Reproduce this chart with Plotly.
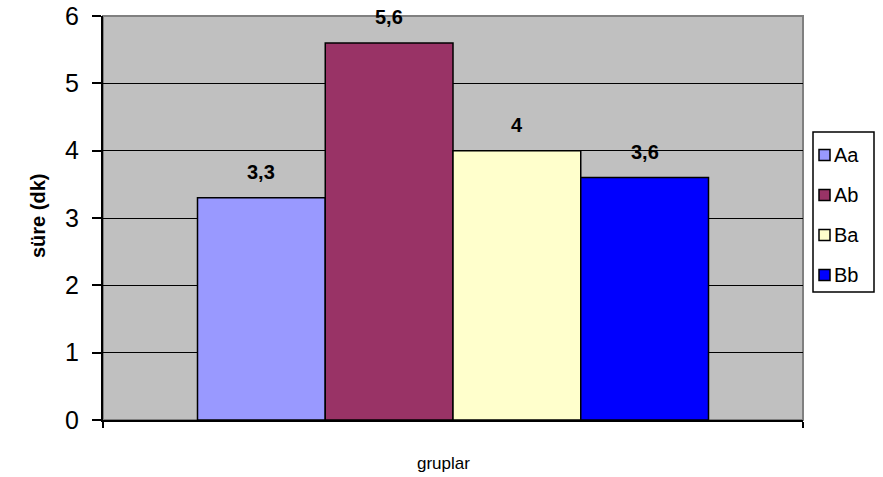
import plotly.graph_objects as go

category = ["gruplar"]
series_names = ["Aa", "Ab", "Ba", "Bb"]
series_values = [3.3, 5.6, 4, 3.6]
value_labels = ["3,3", "5,6", "4", "3,6"]
colors = ["#9999FF", "#993366", "#FFFFCC", "#0000FF"]
y_ticks = [0, 1, 2, 3, 4, 5, 6]

bargap = 0.27
FONT = "Arial, Liberation Sans, sans-serif"

fig = go.Figure()
for name, val, col in zip(series_names, series_values, colors):
    fig.add_trace(go.Bar(
        x=category, y=[val], name=name, showlegend=False,
        marker=dict(color=col, line=dict(color="black", width=1.5)),
    ))

# value labels above each bar
n = len(series_names)
w = (1 - bargap) / n
for i, (val, lab) in enumerate(zip(series_values, value_labels)):
    xc = -(1 - bargap) / 2 + w * (i + 0.5)
    fig.add_annotation(x=xc, y=val, xref="x", yref="y", text=f"<b>{lab}</b>",
                       showarrow=False, yshift=26,
                       font=dict(family=FONT, size=20, color="black"))

# gray border of plot area
fig.add_shape(type="rect", xref="paper", yref="paper", x0=0, x1=1, y0=0, y1=1,
              line=dict(color="#808080", width=2), layer="below")

PW, PH = 700.0, 404.0  # plot area size in px
def px(xp):  # px right of plot left -> paper
    return xp / PW
def py(yp):  # px below plot top -> paper
    return 1 - yp / PH

# legend box
fig.add_shape(type="rect", xref="paper", yref="paper",
              x0=px(710), x1=px(771), y0=py(116), y1=py(276),
              line=dict(color="black", width=1.5), fillcolor="white")
item_y = [139, 179, 219, 259]
for name, col, yc in zip(series_names, colors, item_y):
    fig.add_shape(type="rect", xref="paper", yref="paper",
                  x0=px(716), x1=px(727), y0=py(yc + 5.5), y1=py(yc - 5.5),
                  line=dict(color="black", width=1.5), fillcolor=col)
    fig.add_annotation(x=px(729), y=py(yc), xref="paper", yref="paper",
                       text=name, showarrow=False, xanchor="left", yanchor="middle",
                       font=dict(family=FONT, size=20, color="black"))

# axis titles
fig.add_annotation(x=px(340), y=py(447), xref="paper", yref="paper", text="gruplar",
                   showarrow=False, xanchor="center", yanchor="middle",
                   font=dict(family=FONT, size=17, color="black"))
fig.add_annotation(x=px(-65), y=py(200), xref="paper", yref="paper",
                   text="<b>süre (dk)</b>", textangle=-90, showarrow=False,
                   xanchor="center", yanchor="middle",
                   font=dict(family=FONT, size=20, color="black"))

fig.update_layout(
    width=883, height=477,
    margin=dict(l=103, r=80, t=16, b=57, autoexpand=False),
    paper_bgcolor="white", plot_bgcolor="#C0C0C0",
    barmode="group", bargap=bargap, bargroupgap=0,
    font=dict(family=FONT, color="black"),
    showlegend=False,
    xaxis=dict(showticklabels=False, ticks="outside", tickson="boundaries",
               ticklen=6, tickcolor="black", tickwidth=2,
               showline=True, linecolor="black", linewidth=2,
               showgrid=False, automargin=False),
    yaxis=dict(range=[0, 6], tickvals=y_ticks, ticks="outside", ticklen=9,
               tickcolor="black", tickwidth=1.5, ticklabelstandoff=8,
               ticklabeloverflow="allow",
               showline=True, linecolor="black", linewidth=2,
               showgrid=True, gridcolor="black", gridwidth=1, zeroline=False,
               tickfont=dict(size=25), automargin=False),
)

fig.write_html("out.html", config={"displayModeBar": False},
               post_script="document.body.style.margin='0';document.body.style.overflow='hidden';")
